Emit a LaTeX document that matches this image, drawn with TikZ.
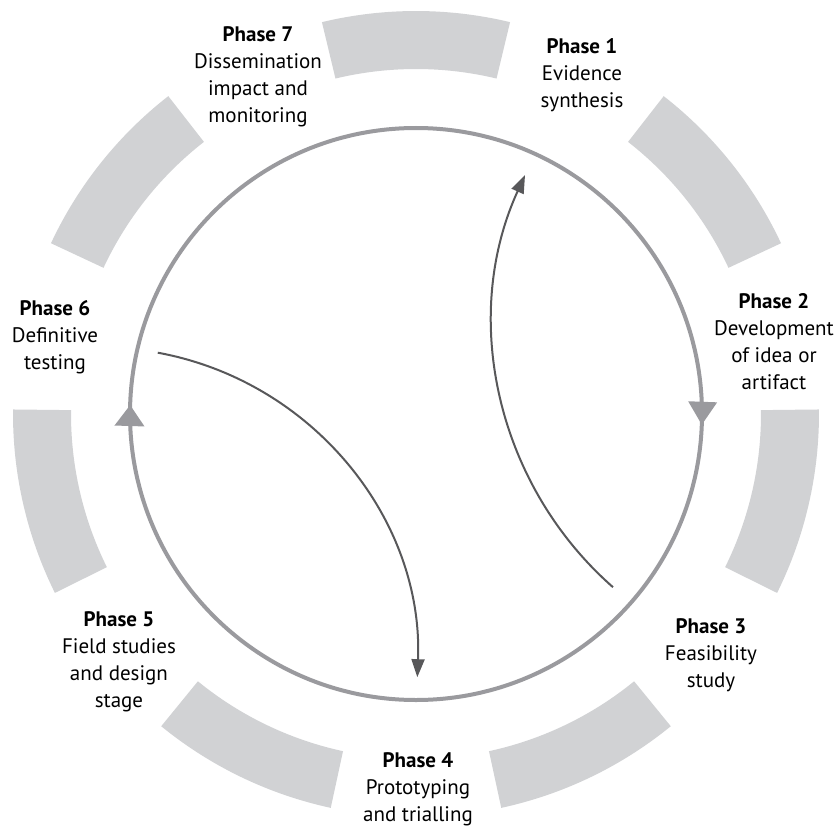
\documentclass[tikz,border=0pt]{standalone}
\usepackage{fontspec}
\setmainfont{PT Sans}
\usetikzlibrary{arrows.meta,decorations.markings}
\definecolor{cycleBandGray}{HTML}{D1D2D4}
\definecolor{cycleRingGray}{HTML}{9A9A9E}
\definecolor{cycleArrowGray}{HTML}{58585A}
\begin{document}
\begin{tikzpicture}[
                x=1pt,y=1pt,
                cycleBand/.style={fill=cycleBandGray},
                cycleRing/.style={draw=cycleRingGray,line width=4pt,
                                  postaction={decorate},
                                  decoration={markings,
                                    mark=at position 0.256 with {\arrow{Triangle[length=23pt,width=28pt]}},
                                    mark=at position 0.755 with {\arrow{Triangle[length=21pt,width=29pt]}}}},
                cycleArrow/.style={draw=cycleArrowGray,line width=2pt,
                                   -{Triangle[length=18pt,width=13pt]}},
                cycleLabel/.style={align=center,inner sep=0pt,
                                   font=\fontsize{21}{27}\selectfont}]
                \useasboundingbox (-416,-414) rectangle (419,414);

                % Outer bands, one between each pair of phases.
                \foreach \k in {0,...,6}{
                  \pgfmathsetmacro{\c}{90-51.4286*\k}
                  \fill[cycleBand] (\c-13.5:403) arc[start angle=\c-13.5,end angle=\c+13.5,radius=403]
                        -- (\c+13.5:345) arc[start angle=\c+13.5,end angle=\c-13.5,radius=345] -- cycle;
                }

                % Main ring, running clockwise.
                \draw[cycleRing] (90:286) arc[start angle=90,end angle=-270,radius=286];

                % Two inner return arrows.
                \coordinate (a1) at (197,-173.2);
                \coordinate (b1) at (-258.2,61.3);
                \draw[cycleArrow] (a1) arc[start angle=228.7,end angle=155.4,radius=353];
                \draw[cycleArrow] (b1) arc[start angle=79.6,end angle=-2.3,radius=317];

                % Phase labels.
                \node[cycleLabel] (p1) at (166,339) {\textbf{Phase 1}\\Evidence\\synthesis};
                \node[cycleLabel] (p2) at (358,72) {\textbf{Phase 2}\\Development\\of idea or\\artifact};
                \node[cycleLabel] (p3) at (295,-241) {\textbf{Phase 3}\\Feasibility\\study};
                \node[cycleLabel] (p4) at (2,-375) {\textbf{Phase 4}\\Prototyping\\and trialling};
                \node[cycleLabel] (p5) at (-297,-248) {\textbf{Phase 5}\\Field studies\\and design\\stage};
                \node[cycleLabel] (p6) at (-361,77) {\textbf{Phase 6}\\Definitive\\testing};
                \node[cycleLabel] (p7) at (-158,337) {\textbf{Phase 7}\\Dissemination\\impact and\\monitoring};
\end{tikzpicture}
\end{document}
